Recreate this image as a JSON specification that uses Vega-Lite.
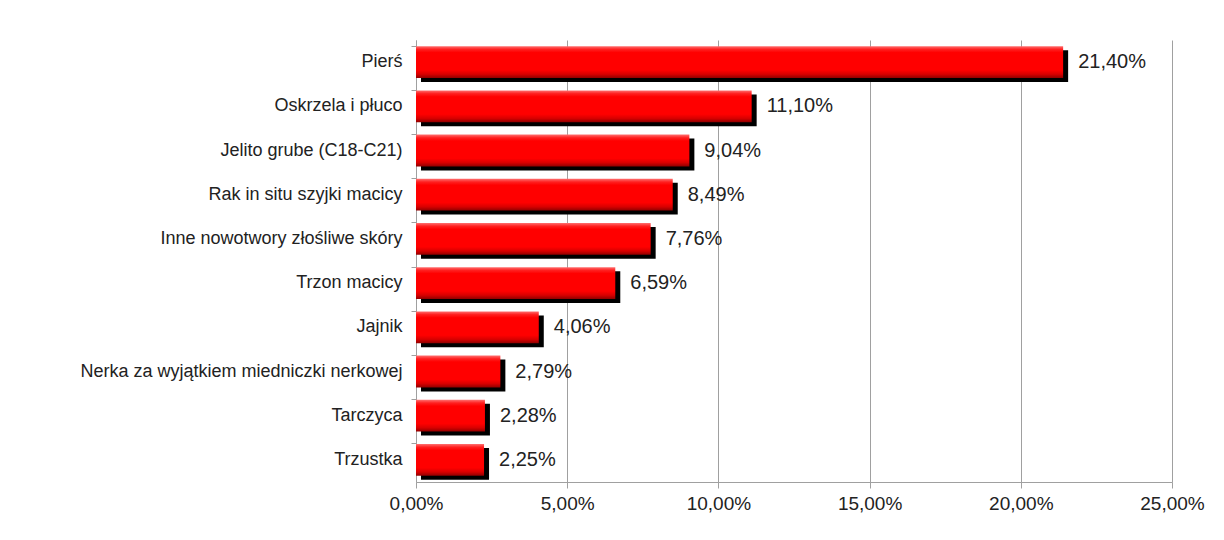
{
  "$schema": "https://vega.github.io/schema/vega-lite/v6.json",
  "width": 756,
  "height": 442,
  "autosize": {"type": "none"},
  "padding": {"left": 416, "top": 40, "right": 52, "bottom": 58},
  "background": "white",
  "data": {
    "values": [
      {"category": "Pierś", "value": 0.2140},
      {"category": "Oskrzela i płuco", "value": 0.1110},
      {"category": "Jelito grube (C18-C21)", "value": 0.0904},
      {"category": "Rak in situ szyjki macicy", "value": 0.0849},
      {"category": "Inne nowotwory złośliwe skóry", "value": 0.0776},
      {"category": "Trzon macicy", "value": 0.0659},
      {"category": "Jajnik", "value": 0.0406},
      {"category": "Nerka za wyjątkiem miedniczki nerkowej", "value": 0.0279},
      {"category": "Tarczyca", "value": 0.0228},
      {"category": "Trzustka", "value": 0.0225}
    ]
  },
  "encoding": {
    "y": {
      "field": "category",
      "type": "nominal",
      "sort": null,
      "scale": {"paddingInner": 0.28, "paddingOuter": 0.14},
      "axis": {
        "title": null,
        "bandPosition": 0,
        "labelFont": "Liberation Sans",
        "labelFontSize": 18,
        "labelLimit": 400,
        "labelColor": "#222222",
        "labelPadding": 9,
        "tickSize": 5,
        "tickColor": "#a0a0a0",
        "domainColor": "#a0a0a0",
        "grid": false
      }
    },
    "x": {
      "field": "value",
      "type": "quantitative",
      "scale": {"domain": [0, 0.25], "nice": false},
      "axis": {
        "title": null,
        "values": [0, 0.05, 0.1, 0.15, 0.2, 0.25],
        "format": ".2%",
        "labelFont": "Liberation Sans",
        "labelFontSize": 19,
        "labelColor": "#222222",
        "labelPadding": 6,
        "tickSize": 6,
        "tickColor": "#a0a0a0",
        "domainColor": "#a0a0a0",
        "grid": true,
        "gridColor": "#a0a0a0",
        "gridOpacity": 1,
        "labelFlush": false
      }
    }
  },
  "layer": [
    {
      "mark": {"type": "bar", "color": "#000000", "xOffset": 5, "yOffset": 4}
    },
    {
      "mark": {
        "type": "bar",
        "color": {
          "gradient": "linear",
          "x1": 0, "y1": 0, "x2": 0, "y2": 1,
          "stops": [
            {"offset": 0, "color": "#ff7070"},
            {"offset": 0.1, "color": "#ff2020"},
            {"offset": 0.2, "color": "#ff0000"},
            {"offset": 0.75, "color": "#ff0000"},
            {"offset": 0.88, "color": "#d80000"},
            {"offset": 1, "color": "#900000"}
          ]
        }
      }
    },
    {
      "mark": {
        "type": "text",
        "align": "left",
        "baseline": "middle",
        "dx": 15,
        "font": "Liberation Sans",
        "fontSize": 20,
        "color": "#222222"
      },
      "encoding": {
        "text": {"field": "value", "type": "quantitative", "format": ".2%"}
      }
    }
  ],
  "config": {
    "view": {"stroke": null},
    "locale": {
      "number": {"decimal": ",", "thousands": "\u00a0", "grouping": [3], "currency": ["", " zł"]}
    }
  }
}
